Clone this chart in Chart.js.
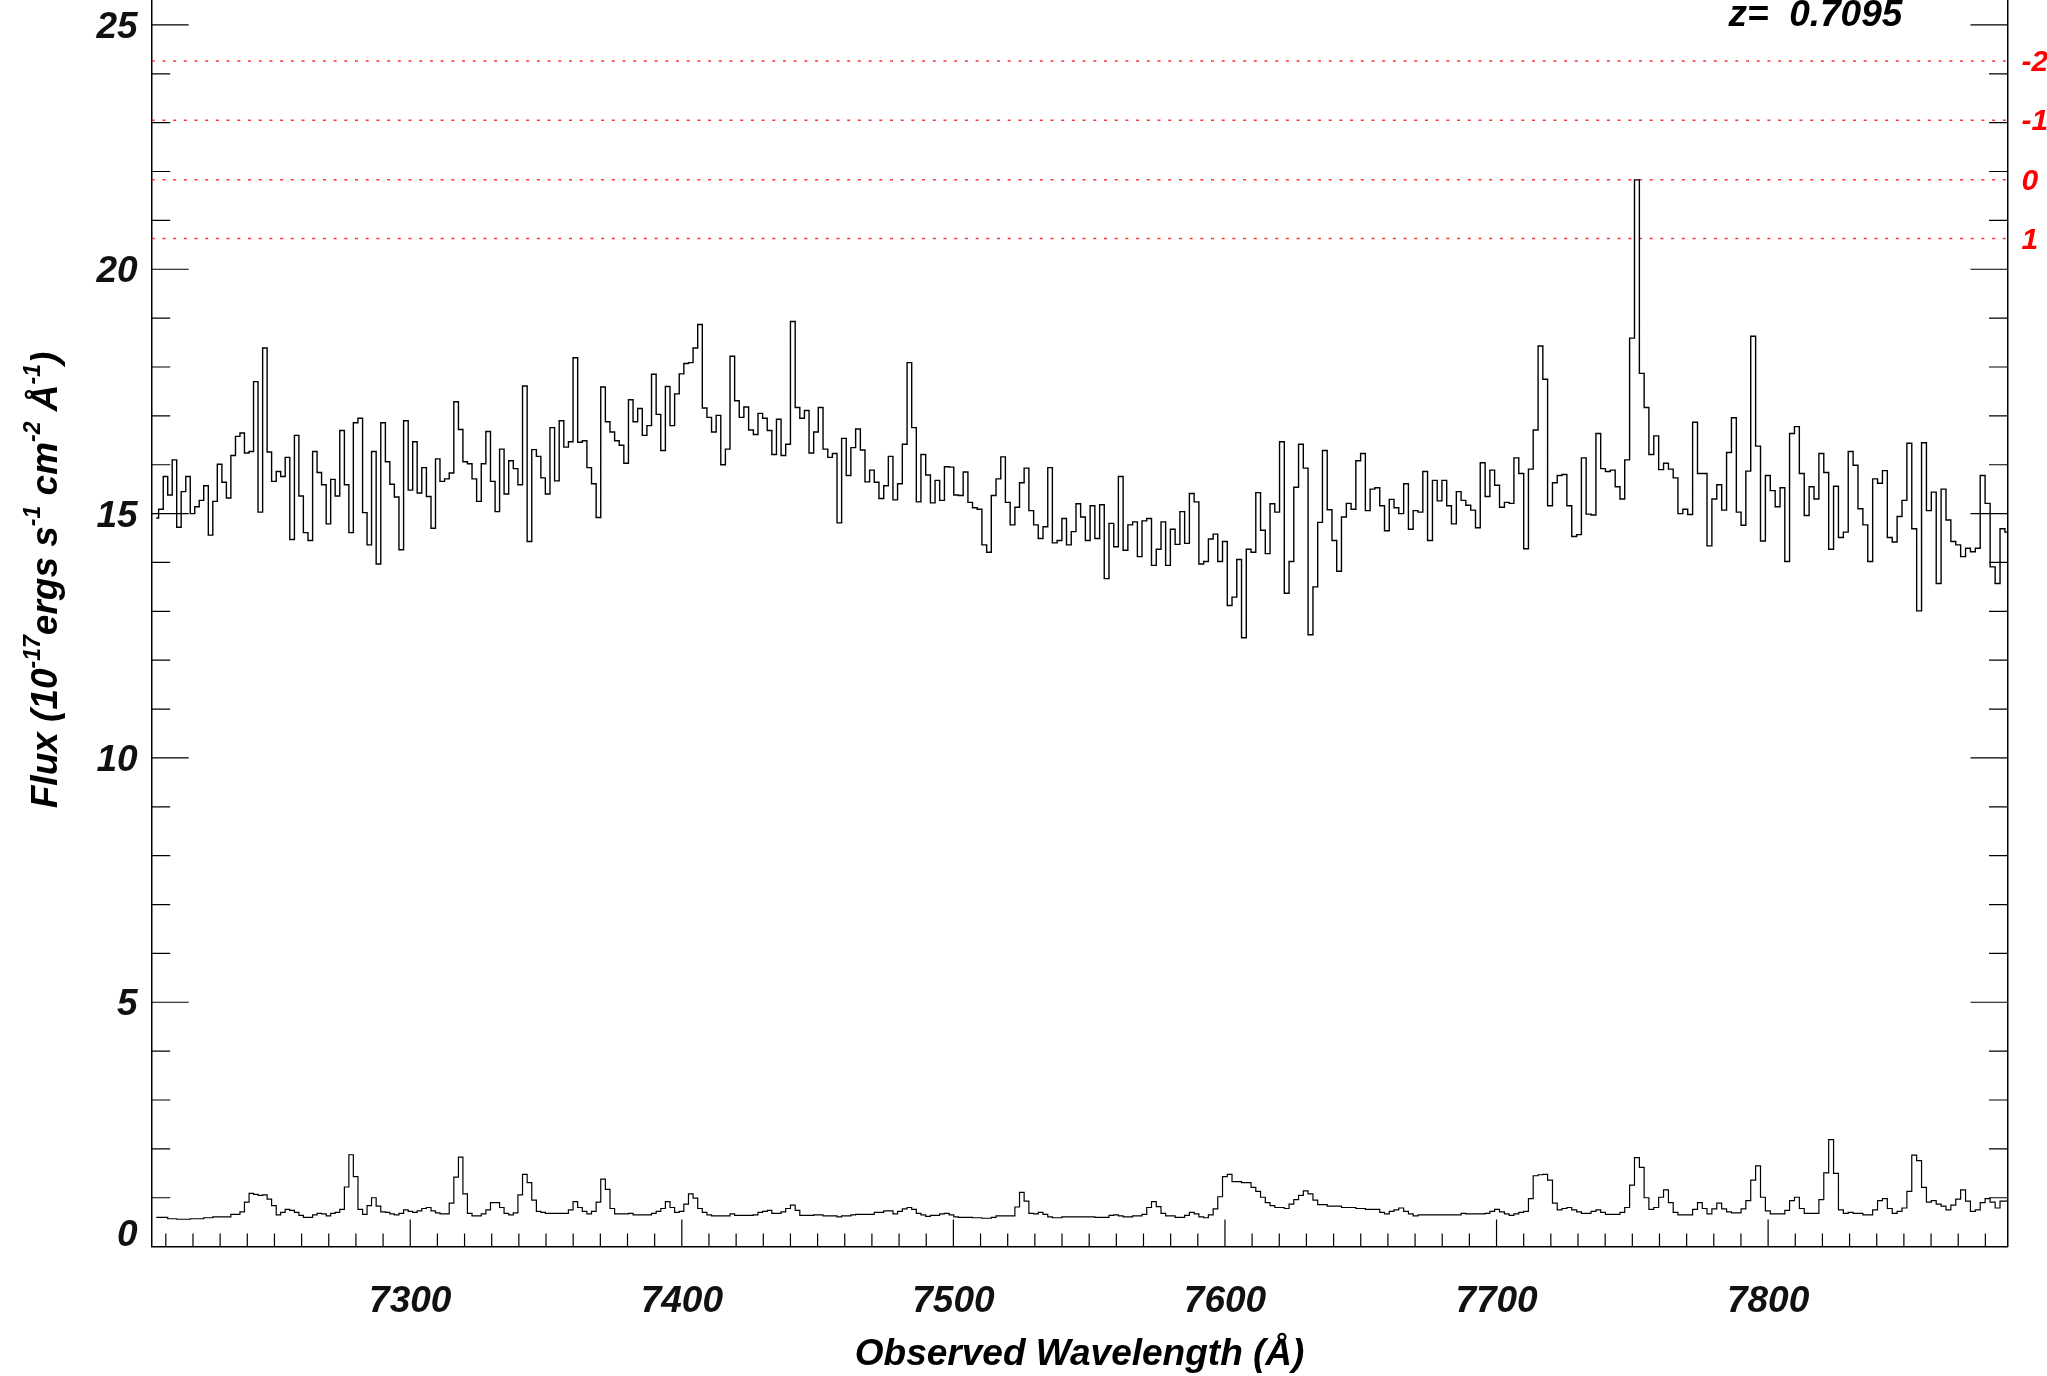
<!DOCTYPE html>
<html><head><meta charset="utf-8">
<script src="https://cdn.jsdelivr.net/npm/chart.js@4.4.1/dist/chart.umd.min.js"></script>
<style>html,body{margin:0;padding:0;background:#fff;overflow:hidden}canvas{display:block}</style>
</head><body>
<canvas id="c" width="2047" height="1376"></canvas>
<script>
// Observed wavelength of each spectral bin (Å)
const wavelength = [
7206.5,7208.2,7209.9,7211.5,7213.2,7214.8,7216.5,7218.2,7219.8,7221.5,
7223.1,7224.8,7226.5,7228.1,7229.8,7231.5,7233.1,7234.8,7236.5,7238.1,
7239.8,7241.5,7243.1,7244.8,7246.5,7248.1,7249.8,7251.5,7253.1,7254.8,
7256.5,7258.2,7259.8,7261.5,7263.2,7264.9,7266.5,7268.2,7269.9,7271.5,
7273.2,7274.9,7276.6,7278.2,7279.9,7281.6,7283.3,7284.9,7286.6,7288.3,
7290.0,7291.7,7293.3,7295.0,7296.7,7298.4,7300.1,7301.7,7303.4,7305.1,
7306.8,7308.5,7310.1,7311.8,7313.5,7315.2,7316.9,7318.6,7320.2,7321.9,
7323.6,7325.3,7327.0,7328.7,7330.4,7332.1,7333.7,7335.4,7337.1,7338.8,
7340.5,7342.2,7343.9,7345.6,7347.3,7348.9,7350.6,7352.3,7354.0,7355.7,
7357.4,7359.1,7360.8,7362.5,7364.2,7365.9,7367.6,7369.3,7371.0,7372.7,
7374.4,7376.1,7377.8,7379.5,7381.2,7382.9,7384.6,7386.3,7388.0,7389.7,
7391.4,7393.1,7394.8,7396.5,7398.2,7399.9,7401.6,7403.3,7405.0,7406.7,
7408.4,7410.1,7411.8,7413.5,7415.2,7416.9,7418.6,7420.3,7422.0,7423.7,
7425.5,7427.2,7428.9,7430.6,7432.3,7434.0,7435.7,7437.4,7439.1,7440.9,
7442.6,7444.3,7446.0,7447.7,7449.4,7451.1,7452.9,7454.6,7456.3,7458.0,
7459.7,7461.4,7463.1,7464.9,7466.6,7468.3,7470.0,7471.7,7473.5,7475.2,
7476.9,7478.6,7480.3,7482.1,7483.8,7485.5,7487.2,7488.9,7490.7,7492.4,
7494.1,7495.8,7497.6,7499.3,7501.0,7502.7,7504.5,7506.2,7507.9,7509.6,
7511.4,7513.1,7514.8,7516.6,7518.3,7520.0,7521.8,7523.5,7525.2,7526.9,
7528.7,7530.4,7532.1,7533.9,7535.6,7537.3,7539.1,7540.8,7542.5,7544.3,
7546.0,7547.7,7549.5,7551.2,7553.0,7554.7,7556.4,7558.2,7559.9,7561.6,
7563.4,7565.1,7566.9,7568.6,7570.3,7572.1,7573.8,7575.6,7577.3,7579.0,
7580.8,7582.5,7584.3,7586.0,7587.8,7589.5,7591.3,7593.0,7594.8,7596.5,
7598.2,7600.0,7601.7,7603.5,7605.2,7607.0,7608.7,7610.5,7612.2,7614.0,
7615.7,7617.5,7619.2,7621.0,7622.7,7624.5,7626.2,7628.0,7629.7,7631.5,
7633.3,7635.0,7636.8,7638.5,7640.3,7642.0,7643.8,7645.6,7647.3,7649.1,
7650.8,7652.6,7654.3,7656.1,7657.9,7659.6,7661.4,7663.1,7664.9,7666.7,
7668.4,7670.2,7672.0,7673.7,7675.5,7677.3,7679.0,7680.8,7682.5,7684.3,
7686.1,7687.8,7689.6,7691.4,7693.1,7694.9,7696.7,7698.4,7700.2,7702.0,
7703.8,7705.5,7707.3,7709.1,7710.9,7712.6,7714.4,7716.2,7717.9,7719.7,
7721.5,7723.2,7725.0,7726.8,7728.6,7730.4,7732.1,7733.9,7735.7,7737.5,
7739.2,7741.0,7742.8,7744.6,7746.3,7748.1,7749.9,7751.7,7753.5,7755.2,
7757.0,7758.8,7760.6,7762.4,7764.2,7765.9,7767.7,7769.5,7771.3,7773.1,
7774.9,7776.6,7778.4,7780.2,7782.0,7783.8,7785.6,7787.4,7789.2,7790.9,
7792.7,7794.5,7796.3,7798.1,7799.9,7801.7,7803.5,7805.3,7807.0,7808.8,
7810.6,7812.4,7814.2,7816.0,7817.8,7819.6,7821.4,7823.2,7825.0,7826.8,
7828.6,7830.4,7832.2,7834.0,7835.8,7837.6,7839.4,7841.2,7843.0,7844.8,
7846.6,7848.4,7850.2,7852.0,7853.8,7855.6,7857.4,7859.2,7861.0,7862.8,
7864.6,7866.4,7868.2,7870.0,7871.8,7873.6,7875.4,7877.2,7879.0,7880.8,
7882.7,7884.5,7886.3,7888.1
];

// Flux in 1e-17 erg/s/cm^2/Å
const flux = [
14.91,15.09,15.76,15.38,16.10,14.72,15.45,15.76,15.00,15.14,
15.27,15.57,14.56,15.25,16.01,15.64,15.32,16.19,16.58,16.65,
16.24,16.27,17.70,15.03,18.39,16.26,15.66,15.86,15.76,16.15,
14.47,16.60,15.36,14.61,14.45,16.27,15.84,15.59,14.79,15.70,
15.36,16.70,15.59,14.61,16.86,16.95,15.02,14.36,16.27,13.97,
16.86,16.06,15.60,15.34,14.26,16.90,15.48,16.47,15.42,15.94,
15.35,
14.70,16.12,15.66,15.71,15.83,17.29,16.72,16.06,16.02,15.71,
15.25,16.02,16.68,15.66,15.04,16.32,15.40,16.08,15.92,15.59,
17.61,14.43,16.31,16.17,15.73,15.40,16.76,15.67,16.90,16.36,
16.47,18.19,16.46,16.49,15.94,15.61,14.92,17.59,16.88,16.67,
16.49,16.40,16.03,17.33,16.88,17.15,16.60,16.80,17.85,17.03,
16.29,17.60,16.80,17.45,17.86,18.07,18.09,18.39,18.87,
17.16,16.97,16.67,17.01,16.00,16.32,18.22,17.31,16.97,17.18,
16.71,16.62,17.05,16.95,16.70,16.21,16.93,16.19,16.42,18.93,
17.17,16.95,17.11,16.24,16.67,17.17,16.32,16.15,16.23,14.81,
16.54,15.78,16.35,16.73,16.30,15.65,15.89,15.64,15.31,15.57,
16.17,15.28,15.61,16.42,18.09,16.76,15.24,16.21,15.79,15.22,
15.68,15.27,15.96,15.95,15.38,15.37,15.85,15.23,
15.12,15.09,14.36,14.21,15.37,15.71,16.16,15.23,14.77,15.13,
15.63,15.93,15.06,14.77,14.49,14.73,15.94,14.40,14.45,14.90,
14.36,14.63,15.20,14.93,14.45,15.16,14.49,15.18,13.67,14.80,
14.32,15.76,14.25,14.77,14.83,14.12,14.85,14.90,13.94,14.27,
14.83,13.94,14.68,14.37,15.04,14.39,15.41,15.24,13.97,14.02,
14.48,14.58,14.02,14.43,13.12,13.29,14.06,
12.46,14.27,14.21,15.43,14.66,14.18,15.20,15.03,16.47,13.37,
14.02,15.54,16.42,15.93,12.52,13.50,14.82,16.29,15.08,14.45,
13.82,14.93,15.21,15.09,16.08,16.23,15.06,15.50,15.53,15.16,
14.65,15.29,15.12,15.00,15.61,14.68,15.06,15.03,15.86,14.45,
15.68,15.26,15.68,15.16,14.79,15.45,15.27,15.17,15.07,14.71,
16.04,15.35,15.89,15.58,15.13,15.23,15.21,
16.14,15.82,14.28,15.91,16.71,18.43,17.75,15.16,15.63,15.78,
15.80,15.16,14.53,14.57,16.14,14.99,14.97,16.64,15.92,15.86,
15.89,15.55,15.30,16.10,18.59,21.83,17.87,17.17,16.21,16.59,
15.90,16.03,15.91,15.73,15.00,15.09,14.98,16.87,15.82,15.82,
14.34,15.30,15.59,15.07,16.25,16.96,15.03,14.76,15.87,18.63,
16.38,14.44,15.78,15.47,15.14,
15.53,14.02,16.64,16.78,15.82,14.96,15.55,15.30,16.23,15.84,
14.27,15.56,14.51,14.62,16.27,15.99,15.10,14.77,14.02,15.71,
15.62,15.88,14.51,14.42,14.94,15.27,16.44,14.69,13.01,16.45,
15.06,15.44,13.57,15.50,14.87,14.43,14.36,14.12,14.29,14.22,
14.29,15.78,15.21,13.91,13.57,14.69,14.62
];

// 1-sigma flux error (same units)
const fluxError = [
0.60,0.60,0.60,0.57,0.57,0.56,0.56,0.56,0.57,0.57,
0.57,0.59,0.59,0.61,0.61,0.61,0.61,0.66,0.66,0.71,
0.91,1.09,1.07,1.05,1.06,0.97,0.84,0.65,0.70,0.76,
0.74,0.70,0.64,0.60,0.60,0.65,0.68,0.67,0.63,0.68,
0.70,0.76,1.22,1.88,1.43,0.76,0.66,0.84,1.00,0.83,
0.71,0.70,0.67,0.65,0.68,0.75,0.72,0.70,0.73,0.78,
0.80,0.73,0.69,0.67,0.67,0.89,1.42,1.83,1.08,0.68,
0.63,0.63,0.67,0.75,0.90,0.90,0.80,0.68,0.65,0.69,
1.06,1.48,1.31,0.95,0.72,0.70,0.68,0.68,0.68,0.68,
0.68,0.75,0.92,0.80,0.72,0.67,0.72,0.91,1.38,1.17,
0.78,0.67,0.67,0.67,0.68,0.65,0.65,0.65,0.65,0.68,
0.72,0.78,0.92,0.80,0.70,0.72,0.87,1.08,0.99,0.78,
0.70,0.65,0.63,0.63,0.63,0.63,0.67,0.64,0.64,0.64,
0.64,0.65,0.70,0.72,0.74,0.68,0.68,0.71,0.78,0.85,
0.74,0.64,0.64,0.64,0.65,0.65,0.63,0.63,0.63,0.61,
0.63,0.63,0.65,0.66,0.66,0.66,0.66,0.70,0.70,0.73,
0.73,0.67,0.72,0.77,0.80,0.76,0.68,0.65,0.62,0.64,
0.64,0.67,0.68,0.65,0.61,0.60,0.60,0.60,0.59,0.59,
0.58,0.58,0.60,0.63,0.63,0.63,0.63,0.81,1.11,0.93,
0.68,0.67,0.70,0.66,0.61,0.59,0.59,0.61,0.61,0.61,
0.61,0.61,0.61,0.61,0.60,0.60,0.60,0.64,0.65,0.63,
0.61,0.61,0.63,0.63,0.66,0.80,0.92,0.82,0.68,0.63,
0.63,0.60,0.60,0.64,0.70,0.67,0.61,0.59,0.65,0.77,
1.02,1.43,1.48,1.33,1.33,1.31,1.31,1.21,1.13,1.01,
0.90,0.84,0.80,0.80,0.78,0.87,0.96,1.05,1.14,1.08,
0.95,0.86,0.86,0.83,0.83,0.83,0.80,0.80,0.80,0.78,
0.78,0.76,0.76,0.76,0.70,0.67,0.72,0.75,0.79,0.72,
0.67,0.63,0.65,0.65,0.65,0.65,0.65,0.65,0.65,0.65,
0.65,0.68,0.67,0.67,0.67,0.67,0.68,0.72,0.76,0.71,
0.67,0.64,0.67,0.70,0.72,0.98,1.45,1.47,1.48,1.36,
0.89,0.75,0.78,0.80,0.75,0.71,0.68,0.68,0.72,0.75,
0.70,0.66,0.66,0.66,0.70,0.80,1.26,1.82,1.62,1.00,
0.76,0.80,1.01,1.16,0.90,0.70,0.65,0.65,0.65,0.76,
0.90,0.78,0.67,0.77,0.89,0.77,0.71,0.69,0.69,0.77,
0.94,1.36,1.65,1.01,0.73,0.67,0.67,0.67,0.74,0.94,
1.01,0.78,0.68,0.68,0.68,0.96,1.51,2.19,1.50,0.75,
0.68,0.70,0.68,0.68,0.65,0.65,0.75,0.94,0.98,0.78,
0.68,0.72,0.79,1.13,1.87,1.76,1.21,0.91,0.94,0.87,
0.83,0.75,0.85,0.97,1.16,0.93,0.72,0.75,0.90,0.98,
0.91,0.79,0.93,0.93
];

// dotted reference levels (flux) and their right-hand labels
const sigmaLevels = [24.26, 23.05, 21.83, 20.63];
const sigmaLabels = ['-2', '-1', '0', '1'];

const xTickValues = [7300, 7400, 7500, 7600, 7700, 7800];
const xTickLabels = ['7300', '7400', '7500', '7600', '7700', '7800'];
const yTickValues = [0, 5, 10, 15, 20, 25];
const yTickLabels = [['0', ''], '5', '10', '15', '20', '25'];  // "0" sits raised above the corner

const redshiftText = 'z=  0.7095';
const xTitle = 'Observed Wavelength (Å)';
const yTitleParts = [['Flux (10', false], ['-17', true], ['ergs s', false], ['-1', true],
                     [' cm', false], ['-2', true], [' Å', false], ['-1', true], [')', false]];

const X_MIN = 7204.8, X_MAX = 7888.15, Y_MIN = 0, Y_MAX = 25.51;

const FAM = '"Liberation Sans", Arial, Helvetica, sans-serif';
const tickFont = { family: FAM, size: 37, style: 'italic', weight: 'bold' };

const decor = {
  id: 'decor',
  afterDatasetsDraw(chart) {
    const { ctx, chartArea: a, scales: { x, y } } = chart;
    ctx.save();
    ctx.strokeStyle = '#000';
    ctx.lineWidth = 1.2;
    ctx.beginPath();
    for (let v = 1; v <= 25; v++) {
      const py = y.getPixelForValue(v);
      const len = v % 5 === 0 ? 37 : 18.5;
      ctx.moveTo(a.left, py); ctx.lineTo(a.left + len, py);
      ctx.moveTo(a.right, py); ctx.lineTo(a.right - len, py);
    }
    for (let w = 7210; w <= 7880; w += 10) {
      const px = x.getPixelForValue(w);
      const len = w % 100 === 0 ? 27 : 13;
      ctx.moveTo(px, a.bottom); ctx.lineTo(px, a.bottom - len);
    }
    ctx.stroke();

    ctx.fillStyle = '#000';
    ctx.textBaseline = 'alphabetic';
    ctx.font = 'italic bold 37px ' + FAM;
    ctx.textAlign = 'left';
    ctx.fillText(redshiftText, a.right - 279, 26);

    ctx.textAlign = 'center';
    ctx.fillText(xTitle, (a.left + a.right) / 2, 1365);

    // rotated y title with superscripts
    const mainF = 'italic bold 37px ' + FAM, supF = 'italic bold 23px ' + FAM;
    let total = 0;
    const widths = yTitleParts.map(([t, s]) => { ctx.font = s ? supF : mainF; const w = ctx.measureText(t).width; total += w; return w; });
    ctx.translate(57, 580);
    ctx.rotate(-Math.PI / 2);
    ctx.textAlign = 'left';
    let cx = -total / 2;
    yTitleParts.forEach(([t, s], i) => {
      ctx.font = s ? supF : mainF;
      ctx.fillText(t, cx, s ? -17 : 0);
      cx += widths[i];
    });
    ctx.restore();
  }
};

const stepLine = (vals, w) => ({
  data: wavelength.map((wl, i) => ({ x: wl, y: vals[i] })),
  stepped: 'middle', borderColor: '#000', borderWidth: w, pointRadius: 0, fill: false, tension: 0
});

new Chart(document.getElementById('c'), {
  type: 'line',
  data: {
    datasets: [
      stepLine(flux, 1.4),
      stepLine(fluxError, 1.2),
      ...sigmaLevels.map(v => ({
        data: [{ x: X_MIN, y: v }, { x: X_MAX, y: v }],
        borderColor: 'rgba(255,30,30,0.9)', borderWidth: 1.5, borderDash: [3, 7.7],
        pointRadius: 0, fill: false
      }))
    ]
  },
  options: {
    responsive: false, animation: false, devicePixelRatio: 1,
    layout: { padding: 0 },
    plugins: { legend: { display: false }, tooltip: { enabled: false } },
    scales: {
      x: {
        type: 'linear', position: 'bottom', min: X_MIN, max: X_MAX,
        afterBuildTicks(s) { s.ticks = xTickValues.map(v => ({ value: v })); },
        afterFit(s) { s.height = 129.4; s.paddingLeft = 0; s.paddingRight = 0; },
        grid: { display: false, drawTicks: false },
        border: { display: true, color: '#000', width: 1.5 },
        ticks: { autoSkip: false, maxRotation: 0, minRotation: 0, padding: 33, color: '#111', font: tickFont,
                 callback: (v, i) => xTickLabels[i] }
      },
      y: {
        type: 'linear', position: 'left', min: Y_MIN, max: Y_MAX,
        afterBuildTicks(s) { s.ticks = yTickValues.map(v => ({ value: v })); },
        afterFit(s) { s.width = 151.7; s.paddingTop = 0; s.paddingBottom = 0; },
        grid: { display: false, drawTicks: false },
        border: { display: true, color: '#000', width: 1.5 },
        ticks: { padding: 14, labelOffset: 3, color: '#111',
                 font: { family: FAM, size: 37, style: 'italic', weight: 'bold', lineHeight: 0.75 },
                 callback: (v, i) => yTickLabels[i] }
      },
      y2: {
        type: 'linear', position: 'right', min: Y_MIN, max: Y_MAX,
        afterBuildTicks(s) { s.ticks = sigmaLevels.map(v => ({ value: v })); },
        afterFit(s) { s.width = 39.5; s.paddingTop = 0; s.paddingBottom = 0; },
        grid: { display: false, drawTicks: false },
        border: { display: true, color: '#000', width: 1.5 },
        ticks: { padding: 14, labelOffset: 2, color: '#ff0000', font: { family: FAM, size: 30, style: 'italic', weight: 'bold' },
                 callback: (v, i) => sigmaLabels[i] }
      }
    }
  },
  plugins: [decor]
});
</script>
</body></html>
